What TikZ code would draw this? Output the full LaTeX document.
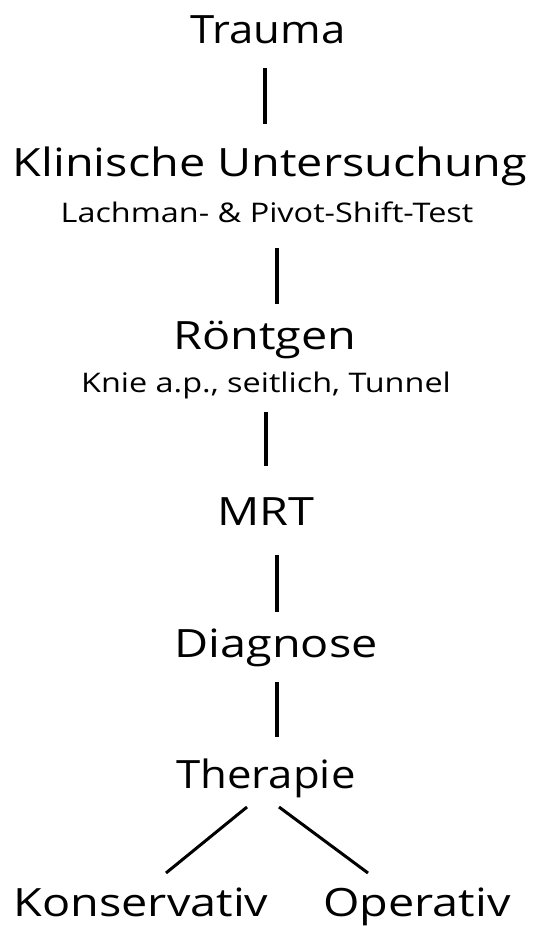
\documentclass[tikz,border=0pt]{standalone}
\usepackage{fontspec}
\setmainfont[FakeStretch=1.2]{Open Sans}
\newfontfamily\narrowfont[FakeStretch=1.12]{Open Sans}
\begin{document}
\begin{tikzpicture}[x=1pt,y=-1pt,
  big/.style={anchor=base,inner sep=0pt,font=\fontsize{39}{44}\selectfont},
  bignarrow/.style={anchor=base,inner sep=0pt,font=\narrowfont\fontsize{39}{44}\selectfont},
  small/.style={anchor=base,inner sep=0pt,font=\fontsize{27}{31}\selectfont},
  link/.style={line width=3.4pt,line cap=butt}]
\useasboundingbox (0,0) rectangle (545,926);
\node[bignarrow] (trauma) at (268,43) {Trauma};
\node[big] (klin) at (270,176) {Klinische Untersuchung};
\node[small] (lach) at (267,222) {Lachman- \& Pivot-Shift-Test};
\node[big] (roent) at (265,349) {Röntgen};
\node[small] (knie) at (266,392) {Knie a.p., seitlich, Tunnel};
\node[big] (mrt) at (266,525) {MRT};
\node[big] (diag) at (276,657) {Diagnose};
\node[bignarrow] (ther) at (266,788) {Therapie};
\node[big,text depth=0pt] (kons) at (141,916) {Konservativ};
\node[big,text depth=0pt] (oper) at (417,916) {Operativ};
\coordinate (a1) at (265,68);  \coordinate (b1) at (265,124);
\coordinate (a2) at (277,248); \coordinate (b2) at (277,304);
\coordinate (a3) at (266,412); \coordinate (b3) at (266,466);
\coordinate (a4) at (277,555); \coordinate (b4) at (277,612);
\coordinate (a5) at (277,682); \coordinate (b5) at (277,737);
\coordinate (tl) at (247,807); \coordinate (kl) at (166,873);
\coordinate (tr) at (279,807); \coordinate (or) at (368,873);
\draw[link] (a1) -- (b1);
\draw[link] (a2) -- (b2);
\draw[link] (a3) -- (b3);
\draw[link] (a4) -- (b4);
\draw[link] (a5) -- (b5);
\draw[link,line width=3pt] (tl) -- (kl);
\draw[link,line width=3pt] (tr) -- (or);
\end{tikzpicture}
\end{document}
